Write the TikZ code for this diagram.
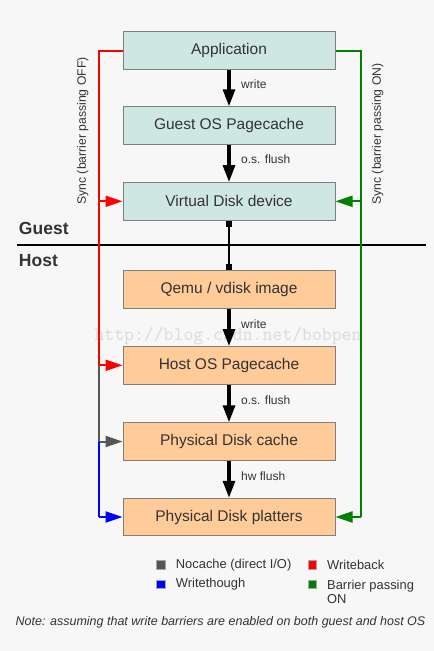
\documentclass[tikz,border=0pt]{standalone}
\usepackage{fontspec}
\setmainfont{Liberation Sans}
\usetikzlibrary{arrows.meta}
\definecolor{bg}{HTML}{F7F7F7}
\definecolor{txt}{HTML}{333333}
\definecolor{guestfill}{HTML}{CFE7E3}
\definecolor{hostfill}{HTML}{FFCB99}
\definecolor{boxline}{HTML}{7F7F7F}
\definecolor{nocache}{HTML}{555555}
\definecolor{wred}{HTML}{FF0000}
\definecolor{wblue}{HTML}{0000FF}
\definecolor{wgreen}{HTML}{008000}
\tikzset{
  box/.style={draw=boxline, line width=1pt, minimum width=212pt, minimum height=37.5pt,
    inner sep=0pt, font=\fontsize{15.5}{18}\selectfont, text=txt},
  gbox/.style={box, fill=guestfill},
  hbox/.style={box, fill=hostfill},
  flow/.style={line width=3.2pt, -{Triangle[length=17pt,width=12pt]}},
  lbl/.style={font=\fontsize{12}{14}\selectfont, text=txt, anchor=west, inner sep=0pt},
  legtxt/.style={font=\fontsize{12.9}{14.5}\selectfont, text=txt, anchor=west, inner sep=0pt},
  sync/.style={line width=2pt},
  synctip/.style={-{Triangle[length=17pt,width=11pt]}},
  leg/.style={minimum size=8.5pt, inner sep=0pt, draw=black!35, line width=0.8pt},
}
\begin{document}
\begin{tikzpicture}[x=1pt,y=-1pt]
\fill[bg] (0,0) rectangle (434,651);
\useasboundingbox (0,0) rectangle (434,651);

% watermark
\node[font=\ttfamily\fontsize{19.2}{20}\selectfont, text=black!14, inner sep=0pt] (wm) at (228,336.5) {http://blog.csdn.net/bobpen};

% boxes
\node[gbox] (app) at (229,50.5) {Application};
\node[gbox] (gpc) at (229,125.5) {Guest OS Pagecache};
\node[gbox] (vdd) at (229,201.3) {Virtual Disk device};
\node[hbox] (qemu) at (229,289.5) {Qemu / vdisk image};
\node[hbox] (hpc) at (229,365.3) {Host OS Pagecache};
\node[hbox] (pdc) at (229,441.5) {Physical Disk cache};
\node[hbox] (pdp) at (229,517) {Physical Disk platters};

% guest / host separator
\node[font=\bfseries\fontsize{17.5}{20}\selectfont, text=txt, anchor=west, inner sep=0pt] (guest) at (18.8,228.5) {Guest};
\node[font=\bfseries\fontsize{17.5}{20}\selectfont, text=txt, anchor=west, inner sep=0pt] (host) at (18.8,261) {Host};
\coordinate (sepL) at (16.7,245.2);
\coordinate (sepR) at (426,245.2);
\draw[line width=2pt] (sepL) -- (sepR);

% main flow
\draw[flow] (app) -- (gpc);
\draw[flow] (gpc) -- (vdd);
\draw[line width=2.6pt, {Square[length=6pt,width=6.5pt]}-{Square[length=6pt,width=6.5pt]}] (vdd.south) -- (qemu.north);
\draw[flow] (qemu) -- (hpc);
\draw[flow] (hpc) -- (pdc);
\draw[flow] (pdc) -- (pdp);

\node[lbl] (l1) at (241,84.5) {write};
\node[lbl] (l2) at (241,159.5) {o.s. flush};
\node[lbl] (l3) at (241,324) {write};
\node[lbl] (l4) at (241,400) {o.s. flush};
\node[lbl] (l5) at (241,476) {hw flush};

% left sync path
\coordinate (rTop) at (99.3,50.5);
\coordinate (rV) at (99.3,201.3);
\coordinate (rH) at (99.3,365.3);
\coordinate (rC) at (99.3,441.5);
\coordinate (rP) at (99.3,517);
\draw[sync, wred] (app.west) -- (rTop) -- (rH);
\draw[sync, wred, synctip] (rV) -- (vdd.west);
\draw[sync, wred, synctip] (rH) -- (hpc.west);
\draw[sync, nocache] (rH) -- (rC);
\draw[sync, nocache, synctip] (rC) -- (pdc.west);
\draw[sync, wblue] (rC) -- (rP);
\draw[sync, wblue, synctip] (rP) -- (pdp.west);

% right sync path
\coordinate (gTop) at (361.3,50.5);
\coordinate (gV) at (361.3,201.3);
\coordinate (gP) at (361.3,517);
\draw[sync, wgreen] (app.east) -- (gTop) -- (gP);
\draw[sync, wgreen, synctip] (gV) -- (vdd.east);
\draw[sync, wgreen, synctip] (gP) -- (pdp.east);

\node[font=\fontsize{12.2}{14}\selectfont, text=txt, rotate=90, inner sep=0pt] (soff) at (82.7,131) {Sync (barrier passing OFF)};
\node[font=\fontsize{12.2}{14}\selectfont, text=txt, rotate=90, inner sep=0pt] (son) at (377.7,134) {Sync (barrier passing ON)};

% legend
\node[leg, fill=nocache] (sq1) at (161,565) {};
\node[legtxt] (t1) at (175.7,565) {Nocache (direct I/O)};
\node[leg, fill=wblue] (sq2) at (161,584.5) {};
\node[legtxt] (t2) at (175.7,584.5) {Writethough};
\node[leg, fill=wred] (sq3) at (312.5,565) {};
\node[legtxt] (t3) at (327,565) {Writeback};
\node[leg, fill=wgreen] (sq4) at (312.5,584.5) {};
\node[font=\fontsize{12.9}{14}\selectfont, text=txt, anchor=north west, inner sep=0pt, align=left] (t4) at (327,579.5) {Barrier passing\\ON};

% note
\node[font=\itshape\fontsize{12.5}{14}\selectfont, text=txt, inner sep=0pt] (note) at (220.5,622.3) {Note: assuming that write barriers are enabled on both guest and host OS};
\end{tikzpicture}
\end{document}
